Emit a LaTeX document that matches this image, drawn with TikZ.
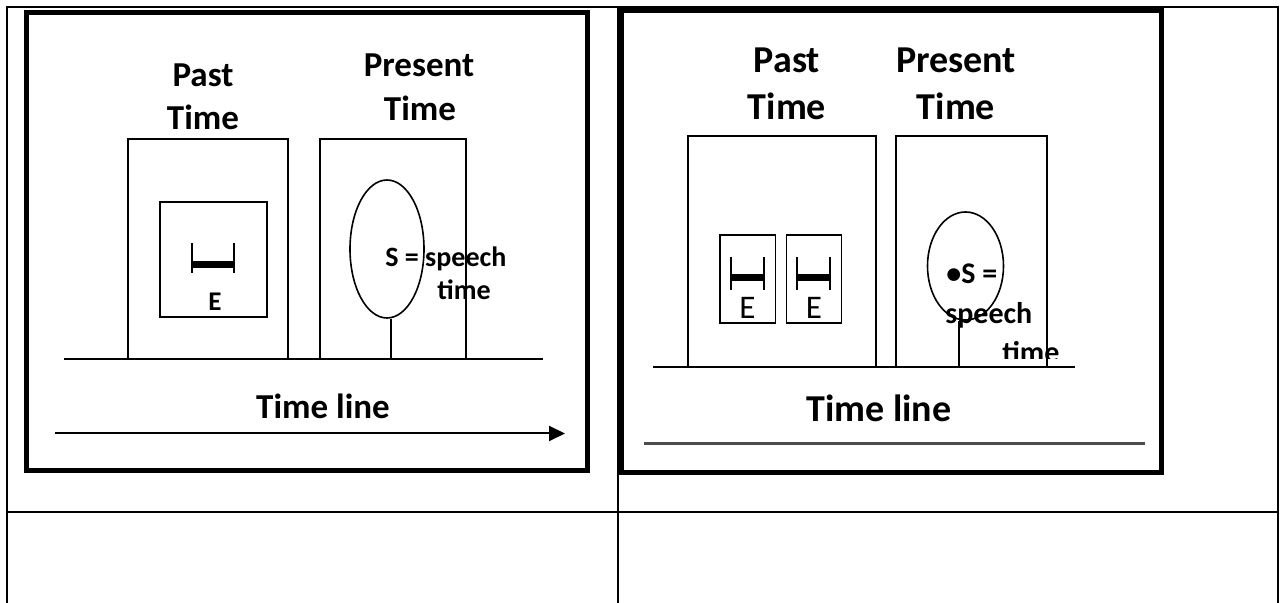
\documentclass[tikz,border=0pt]{standalone}
\usepackage{fontspec}
\setmainfont{Carlito}
\usetikzlibrary{arrows.meta,fit,shapes.geometric}

\begin{document}
\begin{tikzpicture}[x=0.5pt,y=-0.5pt,
  tableline/.style={line width=1pt},
  frame/.style={draw, line width=2.5pt},
  box/.style={draw, line width=0.8pt, inner sep=0pt},
  ell/.style={draw, ellipse, line width=0.8pt, inner sep=0pt},
  stem/.style={line width=0.8pt},
  tline/.style={line width=1pt},
  tick/.style={line width=0.8pt},
  bar/.style={line width=3.5pt},
  headL/.style={font=\bfseries\fontsize{17.5}{21}\selectfont, anchor=base, inner sep=0pt},
  headR/.style={font=\bfseries\fontsize{19}{23}\selectfont, anchor=base, inner sep=0pt},
  noteL/.style={font=\bfseries\fontsize{14}{17}\selectfont, anchor=base west, inner sep=0pt},
  noteR/.style={font=\bfseries\fontsize{15}{18}\selectfont, anchor=base west, inner sep=0pt},
  evL/.style={font=\bfseries\fontsize{13.5}{16}\selectfont, anchor=base, inner sep=0pt},
  evR/.style={font=\fontsize{16.5}{19}\selectfont, anchor=base, inner sep=0pt}]

\useasboundingbox[fill=white] (0,0) rectangle (1285,603);

% table grid
\draw[tableline] (7,603) -- (7,7.5) -- (1278,7.5) -- (1278,603);
\draw[tableline] (617.5,7.5) -- (617.5,603);
\draw[tableline] (7,512) -- (1278,512);

% ---------- left panel ----------
\node[frame, inner sep=0pt, fit={(26,12.5) (587.5,470.5)}] (frameL) {};

\node[headL] (pastL1) at (203,87) {Past};
\node[headL] (pastL2) at (203,130) {Time};
\node[headL] (presL1) at (419,77) {Present};
\node[headL] (presL2) at (420,121) {Time};

\node[box, fit={(128,139) (288,359)}] (pastBoxL) {};
\node[box, fit={(320,139) (466,359)}] (presBoxL) {};
\node[box, fit={(160,202) (267,317)}] (evBoxL) {};

% event interval
\draw[tick] (192,243) -- (192,273);
\draw[tick] (234,243) -- (234,273);
\draw[bar] (192,264.5) -- (234,264.5);
\node[evL] (evL) at (215,311) {E};

% speech time
\node[ell, minimum width=37pt, minimum height=69pt] (ellL) at (387,249) {};
\coordinate (stemL) at (391,359);
\draw[stem] (stemL) -- (stemL |- ellL.south);
\node[noteL] (sL1) at (385,267) {S = speech};
\node[noteL] (sL2) at (437,300) {time};

% time line
\draw[tline] (64,359) -- (543,359);
\node[headL] (tlL) at (323,419) {Time line};
\coordinate (arrS) at (55,433.5);
\coordinate (arrE) at (565,433.5);
\draw[tline, -{Triangle[length=8pt,width=7.5pt]}] (arrS) -- (arrE);

% ---------- right panel ----------
\node[frame, inner sep=0pt, fit={(621,10.5) (1161.5,472.5)}] (frameR) {};

\node[headR] (pastR1) at (787,73) {Past};
\node[headR] (pastR2) at (787,120) {Time};
\node[headR] (presR1) at (956,73) {Present};
\node[headR] (presR2) at (956,120) {Time};

\node[box, fit={(688,136) (876,367)}] (pastBoxR) {};
\node[box, fit={(896,136) (1047,367)}] (presBoxR) {};
\node[box, fit={(720,235) (775.5,323)}] (evBoxR1) {};
\node[box, fit={(786.5,235) (841.5,323)}] (evBoxR2) {};

% two event intervals
\draw[tick] (731,257) -- (731,290);
\draw[tick] (764,257) -- (764,290);
\draw[bar] (731,278) -- (764,278);
\draw[tick] (797,257) -- (797,290);
\draw[tick] (830,257) -- (830,290);
\draw[bar] (797,278) -- (830,278);
\node[evR] (evR1) at (747.5,319) {E};
\node[evR] (evR2) at (814,319) {E};

% speech time
\node[ell, minimum width=38pt, minimum height=54pt] (ellR) at (965.5,266) {};
\coordinate (stemR) at (959,367);
\draw[stem] (stemR) -- (stemR |- ellR.south);
\node[noteR] (sR1) at (946,284) {•S =};
\node[noteR] (sR2) at (945,324) {speech};
\begin{scope}
  \clip (990,330) rectangle (1080,359);
  \node[noteR] (sR3) at (1002,363) {time};
\end{scope}

% time line
\draw[tline] (653,367) -- (1075,367);
\node[headR] (tlR) at (879,422) {Time line};
\draw[line width=1.4pt, black!70] (644,443.5) -- (1145,443.5);

\end{tikzpicture}
\end{document}
